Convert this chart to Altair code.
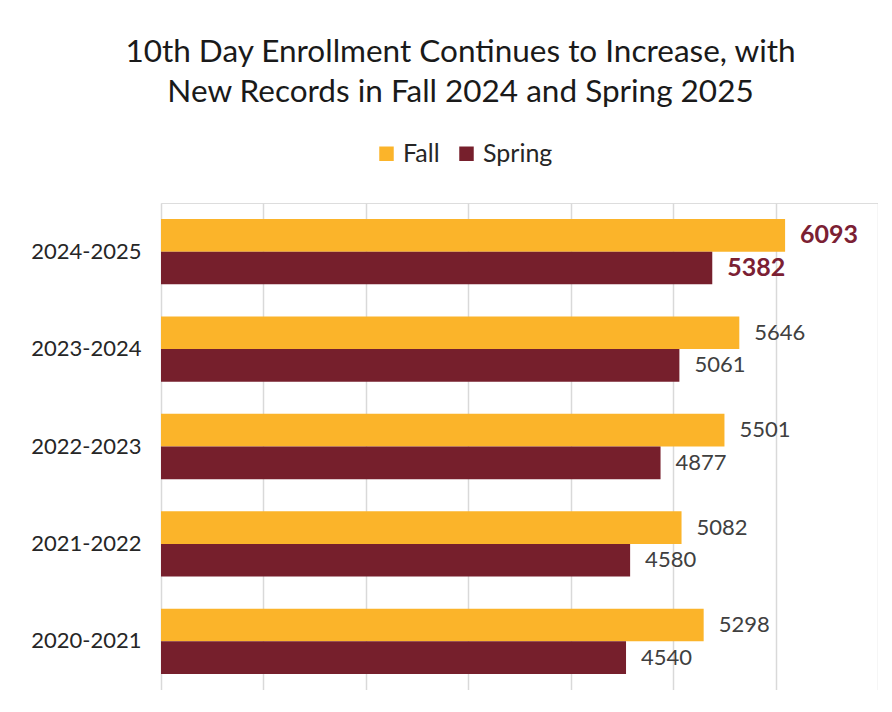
import altair as alt
import pandas as pd

years = ["2024-2025", "2023-2024", "2022-2023", "2021-2022", "2020-2021"]
fall = [6093, 5646, 5501, 5082, 5298]
spring = [5382, 5061, 4877, 4580, 4540]
seasons = ["Fall", "Spring"]
colors = ["#FBB42A", "#761F2C"]
record_year = "2024-2025"

rows = []
for y, f, s in zip(years, fall, spring):
    rows.append({"Year": y, "Season": "Fall", "Enrollment": f})
    rows.append({"Year": y, "Season": "Spring", "Enrollment": s})
df = pd.DataFrame(rows)

FONT = "Lato"

yenc = alt.Y(
    "Year:N", sort=years,
    scale=alt.Scale(paddingInner=0.33, paddingOuter=0.165),
    axis=alt.Axis(title=None, labelFont=FONT, labelFontSize=22, labelColor="#262626",
                  labelPadding=20, ticks=False, domain=False, grid=False),
)
xenc = alt.X(
    "Enrollment:Q",
    scale=alt.Scale(domain=[0, 7000], nice=False),
    axis=alt.Axis(title=None, labels=False, ticks=False, domain=False, grid=True,
                  gridColor="#D9D9D9", gridWidth=1.5, values=list(range(0, 8000, 1000))),
)
yoff = alt.YOffset("Season:N", sort=seasons, scale=alt.Scale(paddingInner=0, paddingOuter=0))

base = alt.Chart(df)

bars = base.mark_bar().encode(
    x=xenc, y=yenc, yOffset=yoff,
    color=alt.Color(
        "Season:N", sort=seasons,
        scale=alt.Scale(domain=seasons, range=colors),
        legend=alt.Legend(title=None, orient="none", direction="horizontal",
                          legendX=213, legendY=-62, symbolType="square", symbolSize=210,
                          symbolStrokeWidth=0, labelFont=FONT, labelFontSize=25,
                          labelColor="#262626", columnPadding=14, labelOffset=4),
    ),
)

labels = base.transform_filter(alt.datum.Year != record_year).mark_text(
    align="left", baseline="middle", dx=15, font=FONT, fontSize=22, color="#404040"
).encode(x="Enrollment:Q", y=alt.Y("Year:N", sort=years), yOffset=yoff, text="Enrollment:Q")

record_labels = base.transform_filter(alt.datum.Year == record_year).mark_text(
    align="left", baseline="middle", dx=15, font=FONT, fontSize=25, fontWeight="bold",
    color="#7B2033"
).encode(x="Enrollment:Q", y=alt.Y("Year:N", sort=years), yOffset=yoff, text="Enrollment:Q")

chart = alt.layer(bars, labels, record_labels).properties(
    width=717, height=487,
    title=alt.TitleParams(
        ["10th Day Enrollment Continues to Increase, with", "New Records in Fall 2024 and Spring 2025"],
        font=FONT, fontSize=31.5, fontWeight="normal", color="#1a1a1a",
        anchor="middle", frame="group", dx=-59, offset=33, lineHeight=40,
    ),
    autosize=alt.AutoSizeParams(type="none"),
    padding={"left": 153, "top": 195, "right": 0, "bottom": 0},
).configure_view(stroke=None).configure(background="white")

chart.save("out.html", embed_options={"renderer": "svg", "actions": False})
